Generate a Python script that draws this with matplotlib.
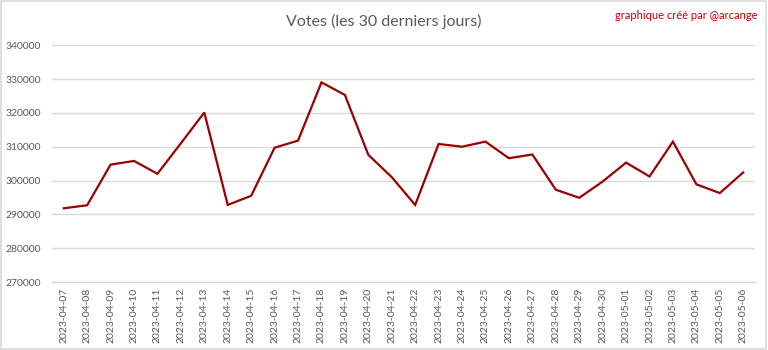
import matplotlib
matplotlib.use("Agg")
import matplotlib.pyplot as plt
from matplotlib.patches import Rectangle

dates = ["2023-04-07", "2023-04-08", "2023-04-09", "2023-04-10", "2023-04-11",
         "2023-04-12", "2023-04-13", "2023-04-14", "2023-04-15", "2023-04-16",
         "2023-04-17", "2023-04-18", "2023-04-19", "2023-04-20", "2023-04-21",
         "2023-04-22", "2023-04-23", "2023-04-24", "2023-04-25", "2023-04-26",
         "2023-04-27", "2023-04-28", "2023-04-29", "2023-04-30", "2023-05-01",
         "2023-05-02", "2023-05-03", "2023-05-04", "2023-05-05", "2023-05-06"]
votes = [291800, 292700, 304700, 305800, 302000,
         311000, 320100, 292800, 295500, 309700,
         311800, 329000, 325300, 307600, 301000,
         292800, 310800, 310000, 311500, 306600,
         307700, 297300, 294900, 299700, 305300,
         301200, 311500, 298900, 296300, 302400]
yticks = [270000, 280000, 290000, 300000, 310000, 320000, 330000, 340000]

title = "Votes (les 30 derniers jours)"
credit = "graphique créé par @arcange"

plt.rcParams['font.family'] = ['Lato', 'DejaVu Sans']

fig = plt.figure(figsize=(7.68, 3.5), dpi=100)
ax = fig.add_axes([0.0677, 0.194, 0.9153, 0.677])

x = list(range(len(dates)))
ax.plot(x, votes, color="#990000", linewidth=1.6, solid_joinstyle="miter")

ax.set_xlim(-0.5, len(dates) - 0.5)
ax.set_ylim(yticks[0], yticks[-1])
ax.set_yticks(yticks)
ax.set_yticklabels([str(v) for v in yticks])
ax.set_xticks(x)
ax.set_xticklabels(dates, rotation=90)

ax.grid(axis="y", color="#d9d9d9", linewidth=1.0)
ax.set_axisbelow(True)
for s in ["top", "right", "left"]:
    ax.spines[s].set_visible(False)
ax.spines["bottom"].set_color("#d9d9d9")
ax.spines["bottom"].set_linewidth(1.0)
ax.tick_params(axis="both", length=0, colors="#595959", labelsize=7.5)
ax.tick_params(axis="y", pad=8)
ax.tick_params(axis="x", pad=4)

fig.text(0.5, 0.94, title, ha="center", va="center", fontsize=11.5, color="#595959")
fig.text(0.986, 0.955, credit, ha="right", va="center", fontsize=8, color="#c00000")

fig.patches.append(Rectangle((0.001, 0.002), 0.997, 0.995, transform=fig.transFigure,
                             fill=False, edgecolor="#d9d9d9", linewidth=1.2))

fig.savefig("out.png", dpi=100, facecolor="white")
